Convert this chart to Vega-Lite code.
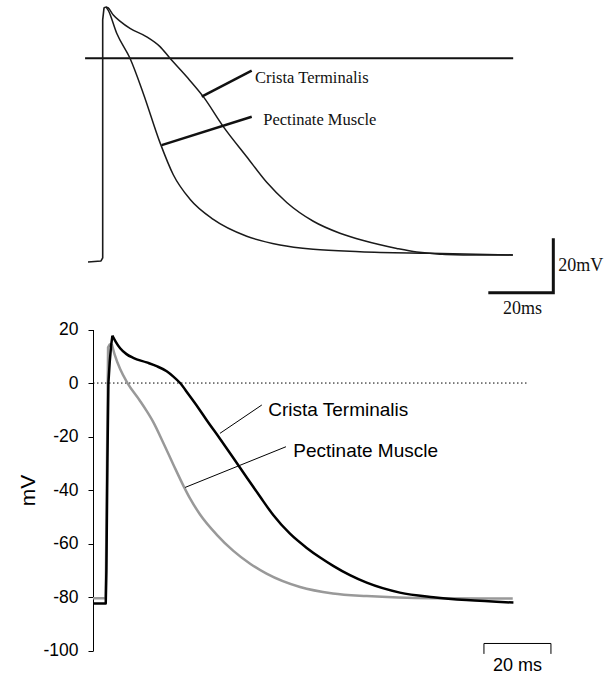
{
  "$schema": "https://vega.github.io/schema/vega-lite/v6.json",
  "width": 520,
  "height": 674,
  "autosize": {"type": "none"},
  "padding": {"left": 93, "top": 0, "right": 0, "bottom": 0},
  "background": "white",
  "config": {"view": {"stroke": null}},
  "layer": [
    {
      "encoding": {
        "x": {"field": "t", "type": "quantitative", "scale": {"domain": [0, 130], "range": [0, 435.5], "nice": false, "zero": false}, "axis": null},
        "y": {"field": "v", "type": "quantitative", "scale": {"domain": [-100, 20], "range": [650.7, 329.5], "nice": false, "zero": false},
          "axis": {"orient": "left", "values": [-100, -80, -60, -40, -20, 0, 20], "labelExpr": "datum.value < 0 ? '-' + abs(datum.value) : '' + datum.value", "grid": false, "tickSize": 5, "tickWidth": 1, "tickColor": "#000", "domainColor": "#000", "domainWidth": 1, "labelColor": "#000", "labelFont": "Liberation Sans", "labelFontSize": 17.5, "labelPadding": 10, "title": "mV", "titleFont": "Liberation Sans", "titleFontSize": 21, "titleFontWeight": "normal", "titleColor": "#000", "titlePadding": 4}}
      },
      "layer": [
        {
          "data": {"values": [{"t": 0, "v": 0}, {"t": 130.1, "v": 0}]},
          "mark": {"type": "line", "stroke": "#000", "strokeWidth": 1, "strokeDash": [1.5, 2.5]}
        },
        {
          "data": {"values": [{"t":0,"v":-80.4},{"t":3.8,"v":-80.4},{"t":4.1,"v":-40},{"t":4.5,"v":13.3},{"t":5.0,"v":14.4},{"t":5.6,"v":14.6}]},
          "mark": {"type": "line", "stroke": "#999999", "strokeWidth": 2.5, "strokeJoin": "round"},
          "encoding": {"order": {"value": null}}
        },
        {
          "data": {"values": [{"t":5.6,"v":14.6},{"t":6.5,"v":10.5},{"t":8.1,"v":5.2},{"t":10.3,"v":0},{"t":14.0,"v":-6.6},{"t":16.0,"v":-10.4},{"t":18.0,"v":-14.6},{"t":21.0,"v":-22.4},{"t":24.0,"v":-30.5},{"t":27.0,"v":-38.4},{"t":29.0,"v":-43.2},{"t":31.9,"v":-49.0},{"t":36.9,"v":-56.6},{"t":41.9,"v":-62.7},{"t":46.9,"v":-67.5},{"t":51.8,"v":-71.2},{"t":61.8,"v":-76.2},{"t":71.6,"v":-78.6},{"t":81.7,"v":-79.6},{"t":101.5,"v":-80.4},{"t":125.3,"v":-80.5}]},
          "mark": {"type": "line", "stroke": "#999999", "strokeWidth": 2.5, "interpolate": "monotone"}
        },
        {
          "data": {"values": [{"t":0,"v":-82.4},{"t":3.8,"v":-82.4},{"t":4.0,"v":-70},{"t":4.3,"v":-30},{"t":4.6,"v":0},{"t":5.0,"v":8},{"t":5.4,"v":14},{"t":5.8,"v":17.7}]},
          "mark": {"type": "line", "stroke": "#000", "strokeWidth": 2.5, "strokeJoin": "round"},
          "encoding": {"order": {"value": null}}
        },
        {
          "data": {"values": [{"t":5.8,"v":17.7},{"t":6.8,"v":15.4},{"t":8.1,"v":13.0},{"t":10,"v":10.8},{"t":12.0,"v":9.4},{"t":16.0,"v":7.7},{"t":19.0,"v":6.3},{"t":22.0,"v":4.4},{"t":24.0,"v":2.4},{"t":26.0,"v":0},{"t":28.5,"v":-4.2},{"t":31.4,"v":-9.2},{"t":33.9,"v":-13.8},{"t":37.9,"v":-20.8},{"t":41.9,"v":-28.0},{"t":45.9,"v":-35.3},{"t":49.9,"v":-42.5},{"t":53.8,"v":-49.3},{"t":58.8,"v":-56.3},{"t":63.8,"v":-61.6},{"t":67.8,"v":-65.2},{"t":71.7,"v":-68.3},{"t":76.7,"v":-71.8},{"t":81.7,"v":-74.6},{"t":91.6,"v":-78.3},{"t":101.6,"v":-80.0},{"t":111.5,"v":-81.1},{"t":125.5,"v":-82.0}]},
          "mark": {"type": "line", "stroke": "#000", "strokeWidth": 2.5, "interpolate": "monotone"}
        },
        {
          "data": {"values": [{"t":50.4,"v":-8.2,"t2":37.9,"v2":-18.8},{"t":57.6,"v":-23.8,"t2":27.5,"v2":-39.0}]},
          "mark": {"type": "rule", "stroke": "#000", "strokeWidth": 1},
          "encoding": {"x2": {"field": "t2"}, "y2": {"field": "v2"}}
        },
        {
          "data": {"values": [{"label":"Crista Terminalis","t":52.3,"v":-12.5},{"label":"Pectinate Muscle","t":59.8,"v":-27.8}]},
          "mark": {"type": "text", "align": "left", "baseline": "alphabetic", "font": "Liberation Sans", "fontSize": 19, "color": "#000"},
          "encoding": {"text": {"field": "label"}}
        },
        {
          "data": {"values": [{"i":0,"t":116.7,"v":-101.2},{"i":1,"t":116.7,"v":-97.3},{"i":2,"t":136.7,"v":-97.3},{"i":3,"t":136.7,"v":-101.2}]},
          "mark": {"type": "line", "stroke": "#000", "strokeWidth": 1},
          "encoding": {"order": {"field": "i", "type": "quantitative"}}
        },
        {
          "data": {"values": [{"label":"20 ms","t":126.7,"v":-107.4}]},
          "mark": {"type": "text", "align": "center", "baseline": "alphabetic", "font": "Liberation Sans", "fontSize": 18, "color": "#000"},
          "encoding": {"text": {"field": "label"}}
        }
      ]
    },
    {
      "encoding": {
        "x": {"field": "t", "type": "quantitative", "scale": {"domain": [0, 130], "range": [9.7, 432.2], "nice": false, "zero": false}, "axis": null},
        "y": {"field": "v", "type": "quantitative", "scale": {"domain": [-80, 20], "range": [275.9, 3.9], "nice": false, "zero": false}, "axis": null}
      },
      "layer": [
        {
          "data": {"values": [{"t": -5.42, "v": 0}, {"t": 126.3, "v": 0}]},
          "mark": {"type": "line", "stroke": "#111", "strokeWidth": 2}
        },
        {
          "data": {"values": [{"t":-4.52,"v":-74.9},{"t":-0.52,"v":-74.5},{"t":0,"v":-73.4},{"t":0,"v":14.1},{"t":0.4,"v":18.5},{"t":1.0,"v":18.9}]},
          "mark": {"type": "line", "stroke": "#1a1a1a", "strokeWidth": 1.6, "strokeJoin": "round"},
          "encoding": {"order": {"value": null}}
        },
        {
          "data": {"values": [{"t":1.0,"v":18.9},{"t":1.63,"v":18.6},{"t":3.26,"v":15.9},{"t":5.5,"v":13.5},{"t":8.4,"v":11.0},{"t":13.54,"v":7.9},{"t":17.63,"v":4.3},{"t":20.71,"v":0},{"t":25.85,"v":-6.8},{"t":30.95,"v":-14.1},{"t":37.11,"v":-25.1},{"t":44.31,"v":-36.2},{"t":50.46,"v":-45.6},{"t":56.62,"v":-53.0},{"t":64.8,"v":-59.9},{"t":73.0,"v":-64.3},{"t":80.2,"v":-67.0},{"t":90.5,"v":-69.9},{"t":96.6,"v":-71.2},{"t":110.9,"v":-72.3},{"t":126.2,"v":-72.3}]},
          "mark": {"type": "line", "stroke": "#1a1a1a", "strokeWidth": 1.5, "interpolate": "monotone"}
        },
        {
          "data": {"values": [{"t":1.0,"v":18.9},{"t":1.72,"v":17.6},{"t":4.31,"v":9.2},{"t":8.4,"v":0},{"t":12.49,"v":-12.9},{"t":17.63,"v":-31.0},{"t":21.72,"v":-42.8},{"t":26.86,"v":-51.8},{"t":34.03,"v":-59.2},{"t":44.31,"v":-65.4},{"t":54.55,"v":-68.6},{"t":64.8,"v":-70.2},{"t":79.17,"v":-71.1},{"t":100.7,"v":-71.7},{"t":126.2,"v":-72.3}]},
          "mark": {"type": "line", "stroke": "#1a1a1a", "strokeWidth": 1.5, "interpolate": "monotone"}
        },
        {
          "data": {"values": [{"t":45.85,"v":-4.56,"t2":30.46,"v2":-14.1},{"t":45.85,"v":-21.5,"t2":18.15,"v2":-31.9}]},
          "mark": {"type": "rule", "stroke": "#111", "strokeWidth": 2.5},
          "encoding": {"x2": {"field": "t2"}, "y2": {"field": "v2"}}
        },
        {
          "data": {"values": [{"label":"Crista Terminalis","t":46.86,"v":-9.19},{"label":"Pectinate Muscle","t":49.4,"v":-24.5}]},
          "mark": {"type": "text", "align": "left", "baseline": "alphabetic", "font": "Liberation Serif", "fontSize": 16.5, "color": "#111"},
          "encoding": {"text": {"field": "label"}}
        },
        {
          "data": {"values": [{"i":0,"t":118.65,"v":-86.2},{"i":1,"t":138.65,"v":-86.2},{"i":2,"t":138.65,"v":-66.2}]},
          "mark": {"type": "line", "stroke": "#111", "strokeWidth": 3},
          "encoding": {"order": {"field": "i", "type": "quantitative"}}
        },
        {
          "data": {"values": [{"label":"20mV","t":140.2,"v":-78.1,"a":"left"},{"label":"20ms","t":129.2,"v":-94.0,"a":"center"}]},
          "mark": {"type": "text", "baseline": "alphabetic", "font": "Liberation Serif", "fontSize": 18, "color": "#111", "align": {"expr": "datum.a"}},
          "encoding": {"text": {"field": "label"}}
        }
      ]
    }
  ],
  "resolve": {"scale": {"x": "independent", "y": "independent"}}
}
